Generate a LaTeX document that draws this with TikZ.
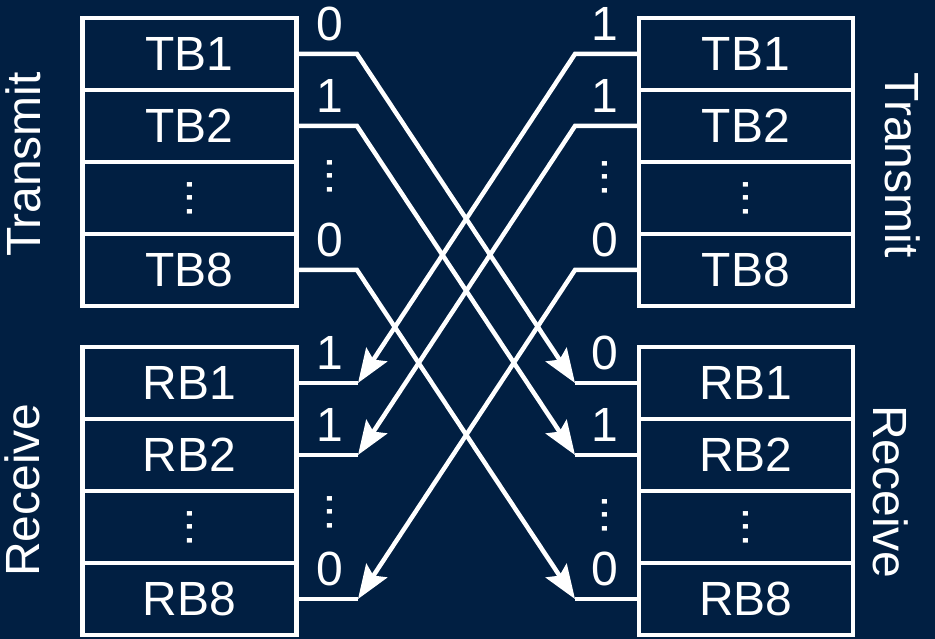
\documentclass[tikz,border=0pt]{standalone}
\usepackage{fontspec}
\setmainfont{Liberation Sans}
\usetikzlibrary{arrows.meta}
\definecolor{navybg}{HTML}{011F42}
\newcommand{\vdts}{\rotatebox{90}{...}}
\begin{document}
\begin{tikzpicture}[x=1pt,y=-1pt,
  cell/.style={draw=white, line width=4.5pt, minimum width=214pt, minimum height=72pt, inner sep=0pt, text=white, font=\fontsize{48}{56}\selectfont},
  lab/.style={text=white, inner sep=0pt, font=\fontsize{48}{56}\selectfont},
  side/.style={text=white, inner sep=0pt, font=\fontsize{48}{56}\selectfont},
  conn/.style={draw=white, line width=4.5pt},
  arr/.style={-{Stealth[length=34pt,width=25pt,inset=6pt]}}]
\fill[navybg] (0,0) rectangle (935,639);
\useasboundingbox (0,0) rectangle (935,639);
% left transmit
\node[cell] (lt1) at (189.5,54) {TB1};
\node[cell] (lt2) at (189.5,126) {TB2};
\node[cell] (lt3) at (189.5,198) {\vdts};
\node[cell] (lt4) at (189.5,270) {TB8};
% left receive
\node[cell] (lr1) at (189.5,383) {RB1};
\node[cell] (lr2) at (189.5,455) {RB2};
\node[cell] (lr3) at (189.5,527) {\vdts};
\node[cell] (lr4) at (189.5,599) {RB8};
% right transmit
\node[cell] (rt1) at (746,54) {TB1};
\node[cell] (rt2) at (746,126) {TB2};
\node[cell] (rt3) at (746,198) {\vdts};
\node[cell] (rt4) at (746,270) {TB8};
% right receive
\node[cell] (rr1) at (746,383) {RB1};
\node[cell] (rr2) at (746,455) {RB2};
\node[cell] (rr3) at (746,527) {\vdts};
\node[cell] (rr4) at (746,599) {RB8};
% side labels
\node[side, rotate=90] (slt) at (23,164.5) {Transmit};
\node[side, rotate=90] (slr) at (22,490) {Receive};
\node[side, rotate=-90] (srt) at (903,165) {Transmit};
\node[side, rotate=-90] (srr) at (891,492) {Receive};
% bend coordinates
\coordinate (la1) at (357,54);
\coordinate (la2) at (357,126);
\coordinate (la4) at (357,270);
\coordinate (ra1) at (575,54);
\coordinate (ra2) at (575,126);
\coordinate (ra4) at (575,270);
\coordinate (lb1) at (358,383);
\coordinate (lb2) at (358,455);
\coordinate (lb4) at (358,599);
\coordinate (rb1) at (575,383);
\coordinate (rb2) at (575,455);
\coordinate (rb4) at (575,599);
% connectors left transmit -> right receive
\draw[conn,arr] (lt1.east) -- (la1) -- (rb1);
\draw[conn] (rb1) -- (rr1.west);
\draw[conn,arr] (lt2.east) -- (la2) -- (rb2);
\draw[conn] (rb2) -- (rr2.west);
\draw[conn,arr] (lt4.east) -- (la4) -- (rb4);
\draw[conn] (rb4) -- (rr4.west);
% connectors right transmit -> left receive
\draw[conn,arr] (rt1.west) -- (ra1) -- (lb1);
\draw[conn] (lb1) -- (lr1.east);
\draw[conn,arr] (rt2.west) -- (ra2) -- (lb2);
\draw[conn] (lb2) -- (lr2.east);
\draw[conn,arr] (rt4.west) -- (ra4) -- (lb4);
\draw[conn] (lb4) -- (lr4.east);
% bit labels
\node[lab, anchor=base] (b1) at (330,40.5) {0};
\node[lab, anchor=base] (b2) at (330,112.5) {1};
\node[lab] (b3) at (330,176) {\vdts};
\node[lab, anchor=base] (b4) at (330,256.5) {0};
\node[lab, anchor=base] (b5) at (605,40.5) {1};
\node[lab, anchor=base] (b6) at (605,112.5) {1};
\node[lab] (b7) at (605,177) {\vdts};
\node[lab, anchor=base] (b8) at (605,256.5) {0};
\node[lab, anchor=base] (b9) at (330,369.5) {1};
\node[lab, anchor=base] (b10) at (330,441.5) {1};
\node[lab] (b11) at (330,512) {\vdts};
\node[lab, anchor=base] (b12) at (330,585.5) {0};
\node[lab, anchor=base] (b13) at (605,369.5) {0};
\node[lab, anchor=base] (b14) at (605,441.5) {1};
\node[lab] (b15) at (605,515) {\vdts};
\node[lab, anchor=base] (b16) at (605,585.5) {0};
\end{tikzpicture}
\end{document}
